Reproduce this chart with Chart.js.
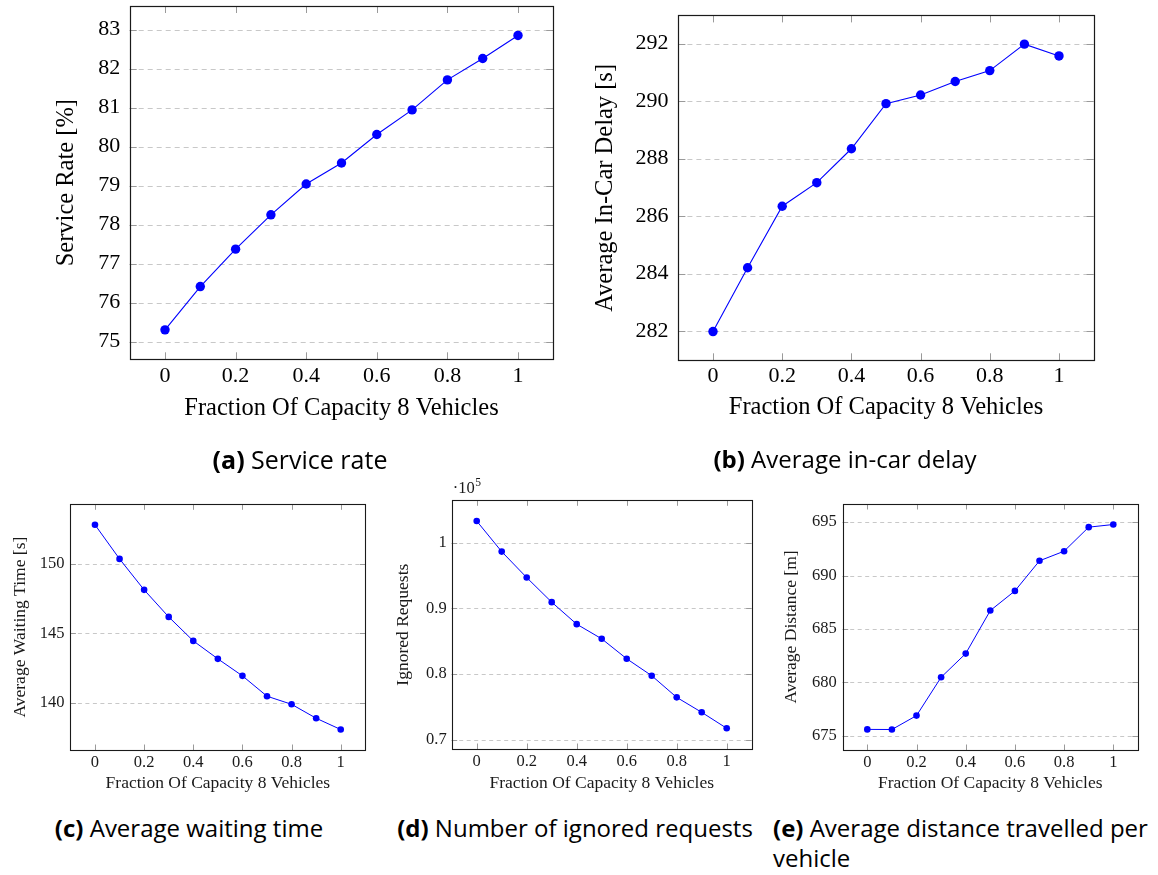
<!DOCTYPE html>
<html>
<head>
<meta charset="utf-8">
<script src="https://cdn.jsdelivr.net/npm/chart.js@4.4.1/dist/chart.umd.min.js"></script>
<style>
  html, body { margin: 0; padding: 0; background: #fff; }
  body { width: 1158px; height: 875px; position: relative; overflow: hidden; }
  canvas { position: absolute; }
  .cap { position: absolute; font-family: "Open Sans", sans-serif; font-size: 24px; color: #000;
         white-space: nowrap; transform: translate(-50%, -50%); line-height: 30px; }
  .cap b { font-weight: 700; }
  .capL { position: absolute; font-family: "Open Sans", sans-serif; font-size: 24px; color: #000;
          white-space: nowrap; line-height: 30px; }
  .capL b { font-weight: 700; }
</style>
</head>
<body>
<canvas id="ca" width="580" height="430" style="left:0px;top:0px"></canvas>
<canvas id="cb" width="578" height="430" style="left:580px;top:0px"></canvas>
<canvas id="cc" width="385" height="330" style="left:0px;top:470px"></canvas>
<canvas id="cd" width="385" height="330" style="left:385px;top:470px"></canvas>
<canvas id="ce" width="388" height="330" style="left:770px;top:470px"></canvas>

<div class="cap" style="left:300px;top:459px;font-size:25px"><b>(a)</b> Service rate</div>
<div class="cap" style="left:845px;top:459px"><b>(b)</b> Average in-car delay</div>
<div class="cap" style="left:189px;top:828px"><b>(c)</b> Average waiting time</div>
<div class="cap" style="left:575px;top:828px"><b>(d)</b> Number of ignored requests</div>
<div class="capL" style="left:773px;top:813px"><b>(e)</b> Average distance travelled per<br>vehicle</div>

<script>
// ---------------- data ----------------
const xValues = [0, 0.1, 0.2, 0.3, 0.4, 0.5, 0.6, 0.7, 0.8, 0.9, 1];
const xTicks = [0, 0.2, 0.4, 0.6, 0.8, 1];

const serviceRate = [75.30, 76.41, 77.37, 78.25, 79.04, 79.58, 80.31, 80.94, 81.71, 82.26, 82.85];
const serviceTicks = [75, 76, 77, 78, 79, 80, 81, 82, 83];

const inCarDelay = [281.98, 284.20, 286.34, 287.16, 288.34, 289.91, 290.21, 290.68, 291.06, 291.98, 291.57];
const delayTicks = [282, 284, 286, 288, 290, 292];

const waitingTime = [152.78, 150.33, 148.11, 146.17, 144.45, 143.16, 141.94, 140.48, 139.90, 138.90, 138.09];
const waitTicks = [140, 145, 150];

const ignoredRequests = [103290, 98630, 94680, 90930, 87580, 85350, 82310, 79730, 76430, 74150, 71720];
const ignoredTicks = [70000, 80000, 90000, 100000];

const avgDistance = [675.59, 675.58, 676.88, 680.47, 682.69, 686.72, 688.56, 691.38, 692.28, 694.53, 694.78];
const distanceTicks = [675, 680, 685, 690, 695];

const xTitle = 'Fraction Of Capacity 8 Vehicles';

// ---------------- helpers ----------------
const SERIF = '"Liberation Serif", "Times New Roman", serif';
const BLUE = '#0000ff';

const framePlugin = {
  id: 'frame',
  beforeDatasetsDraw(chart, args, opts) {
    const { ctx, chartArea: a, scales: { x, y } } = chart;
    ctx.save();
    // dashed horizontal grid
    ctx.lineWidth = 1;
    ctx.strokeStyle = '#c8c8c8';
    ctx.setLineDash(opts.dash);
    y.ticks.forEach(t => {
      const py = Math.round(y.getPixelForValue(t.value)) + 0.5;
      ctx.beginPath(); ctx.moveTo(a.left, py); ctx.lineTo(a.right, py); ctx.stroke();
    });
    ctx.setLineDash([]);
    // inward tick marks
    ctx.strokeStyle = '#9a9a9a';
    x.ticks.forEach(t => {
      const px = Math.round(x.getPixelForValue(t.value)) + 0.5;
      ctx.beginPath(); ctx.moveTo(px, a.top); ctx.lineTo(px, a.top + opts.tick); ctx.stroke();
      ctx.beginPath(); ctx.moveTo(px, a.bottom); ctx.lineTo(px, a.bottom - opts.tick); ctx.stroke();
    });
    y.ticks.forEach(t => {
      const py = Math.round(y.getPixelForValue(t.value)) + 0.5;
      ctx.beginPath(); ctx.moveTo(a.left, py); ctx.lineTo(a.left + opts.tick, py); ctx.stroke();
      ctx.beginPath(); ctx.moveTo(a.right, py); ctx.lineTo(a.right - opts.tick, py); ctx.stroke();
    });
    // frame
    ctx.strokeStyle = '#1a1a1a';
    ctx.lineWidth = opts.frameWidth;
    ctx.strokeRect(Math.round(a.left) + 0.5, Math.round(a.top) + 0.5,
                   Math.round(a.right) - Math.round(a.left), Math.round(a.bottom) - Math.round(a.top));
    // optional multiplier label (e.g. ·10^5)
    if (opts.multiplier) {
      const fs = opts.tickSize;
      ctx.fillStyle = '#1a1a1a';
      ctx.textBaseline = 'middle';
      ctx.textAlign = 'left';
      ctx.font = fs + 'px ' + SERIF;
      const base = '\u00b710';
      const bx = a.left + 1, by = a.top - 12;
      ctx.fillText(base, bx, by);
      const w = ctx.measureText(base).width;
      ctx.font = (fs * 0.7) + 'px ' + SERIF;
      ctx.fillText(opts.multiplier, bx + w + 0.5, by - 5);
    }
    ctx.restore();
  }
};

function enlarged(values) {
  const lo = Math.min(...values), hi = Math.max(...values);
  const pad = (hi - lo) * 0.1;
  return [lo - pad, hi + pad];
}

function makeChart(id, cfg) {
  const [ymin, ymax] = enlarged(cfg.values);
  const data = xValues.map((xv, i) => ({ x: xv, y: cfg.values[i] }));
  return new Chart(document.getElementById(id), {
    type: 'line',
    data: {
      datasets: [{
        data: data,
        borderColor: BLUE,
        borderWidth: cfg.lineWidth,
        pointRadius: cfg.pointRadius,
        pointBackgroundColor: BLUE,
        pointBorderWidth: 0,
        pointHoverRadius: cfg.pointRadius,
        tension: 0,
        fill: false
      }]
    },
    options: {
      responsive: false,
      maintainAspectRatio: false,
      animation: false,
      events: [],
      layout: { padding: { left: 0, top: cfg.padTop, right: cfg.padRight, bottom: 0 } },
      plugins: {
        legend: { display: false },
        tooltip: { enabled: false },
        frame: { dash: cfg.dash, tick: cfg.tickLen, frameWidth: cfg.frameWidth,
                 multiplier: cfg.multiplier || null, tickSize: cfg.tickSize }
      },
      scales: {
        x: {
          type: 'linear',
          min: -0.1, max: 1.1,
          grid: { display: false, drawTicks: false },
          border: { display: false },
          afterBuildTicks: s => { s.ticks = xTicks.map(v => ({ value: v })); },
          afterFit: s => { s.height = cfg.xHeight; s.paddingLeft = 0; s.paddingRight = 0; },
          ticks: {
            color: cfg.textColor, padding: cfg.xTickPad, maxRotation: 0, autoSkip: false,
            font: { family: SERIF, size: cfg.tickSize },
            callback: v => String(v)
          },
          title: {
            display: true, text: xTitle, color: cfg.textColor,
            font: { family: SERIF, size: cfg.titleSize },
            padding: { top: 0, bottom: cfg.xTitlePad }
          }
        },
        y: {
          type: 'linear',
          min: ymin, max: ymax,
          grid: { display: false, drawTicks: false },
          border: { display: false },
          afterBuildTicks: s => { s.ticks = cfg.ticks.map(v => ({ value: v })); },
          afterFit: s => { s.width = cfg.yWidth; s.paddingTop = 0; s.paddingBottom = 0; },
          ticks: {
            color: cfg.textColor, padding: cfg.yTickPad, autoSkip: false,
            font: { family: SERIF, size: cfg.tickSize },
            callback: cfg.tickFormat || (v => String(v))
          },
          title: {
            display: true, text: cfg.yTitle, color: cfg.textColor,
            font: { family: SERIF, size: cfg.titleSize },
            padding: { top: cfg.yTitlePad, bottom: 0 }
          }
        }
      }
    },
    plugins: [framePlugin]
  });
}

const big = { lineWidth: 1.1, pointRadius: 4.7, dash: [5, 4], tickLen: 7, frameWidth: 1.2,
              tickSize: 22, titleSize: 24.5, textColor: '#000' };
const small = { lineWidth: 1, pointRadius: 3.3, dash: [4, 3.5], tickLen: 5.5, frameWidth: 1.1,
                tickSize: 16.5, titleSize: 17.5, textColor: '#1a1a1a' };

makeChart('ca', Object.assign({}, big, {
  values: serviceRate, ticks: serviceTicks, yTitle: 'Service Rate [%]',
  yWidth: 129.7, padTop: 6, padRight: 26.7, xHeight: 70.7,
  yTitlePad: 51.7, yTickPad: 9.5, xTickPad: 3.5, xTitlePad: 7
}));

makeChart('cb', Object.assign({}, big, {
  values: inCarDelay, ticks: delayTicks, yTitle: 'Average In-Car Delay [s]',
  yWidth: 98.4, padTop: 15.4, padRight: 64.4, xHeight: 69.7,
  yTitlePad: 11.1, yTickPad: 9.8, xTickPad: 3.2, xTitlePad: 8
}));

makeChart('cc', Object.assign({}, small, {
  values: waitingTime, ticks: waitTicks, yTitle: 'Average Waiting Time [s]',
  yWidth: 70.4, padTop: 34.3, padRight: 19.7, xHeight: 50,
  yTitlePad: 9.5, yTickPad: 6, xTickPad: 2.8, xTitlePad: 6.2
}));

makeChart('cd', Object.assign({}, small, {
  values: ignoredRequests, ticks: ignoredTicks, yTitle: 'Ignored Requests',
  yWidth: 66.7, padTop: 30.3, padRight: 18.3, xHeight: 51,
  yTitlePad: 7.8, yTickPad: 5, xTickPad: 2.8, xTitlePad: 6.2,
  multiplier: '5', tickFormat: v => String(v / 100000)
}));

makeChart('ce', Object.assign({}, small, {
  values: avgDistance, ticks: distanceTicks, yTitle: 'Average Distance [m]',
  yWidth: 72.7, padTop: 34, padRight: 20.1, xHeight: 50,
  yTitlePad: 11.2, yTickPad: 6, xTickPad: 2.8, xTitlePad: 6.2
}));
</script>
</body>
</html>
